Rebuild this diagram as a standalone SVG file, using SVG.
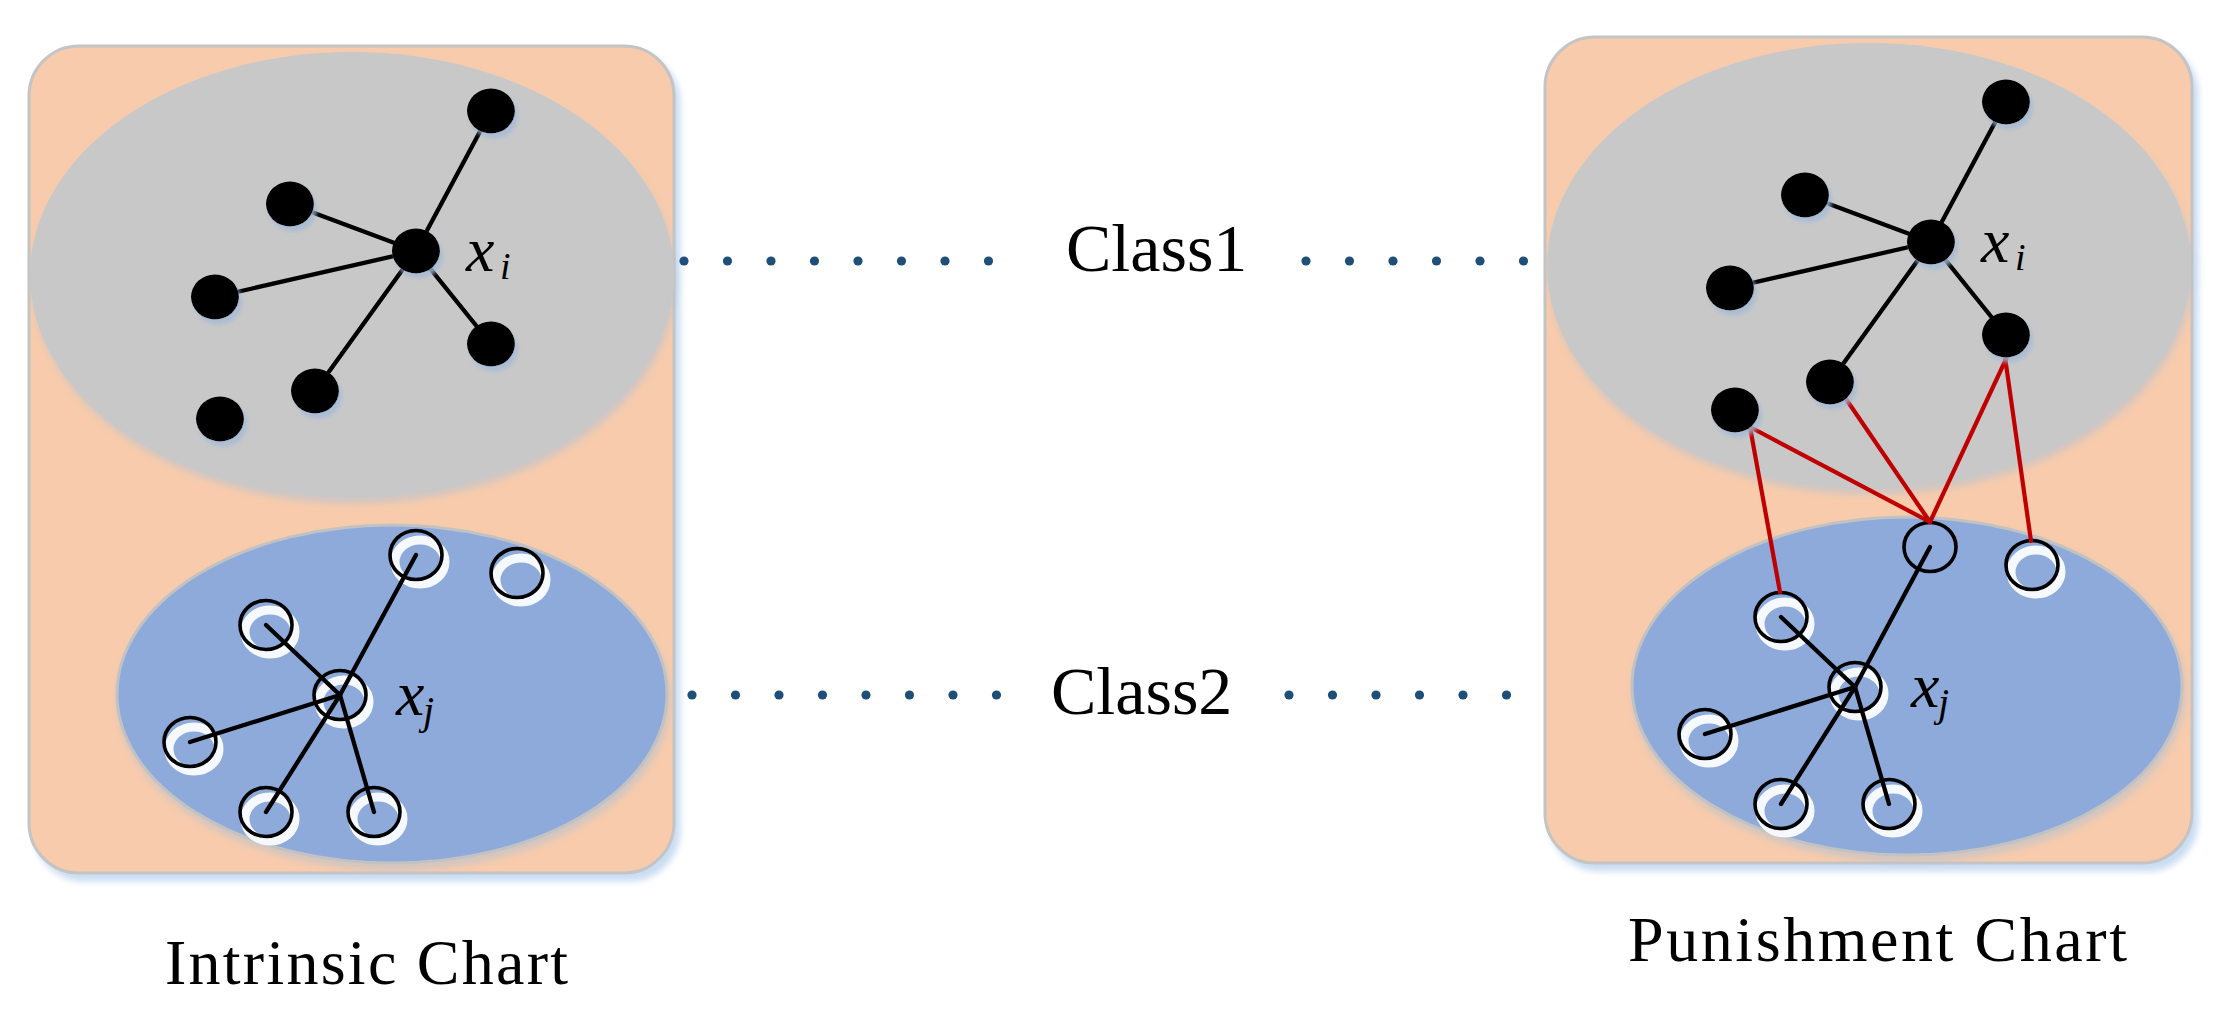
<svg xmlns="http://www.w3.org/2000/svg" xmlns:xlink="http://www.w3.org/1999/xlink" width="2218" height="1020" viewBox="0 0 2218 1020">
<style>
.panel{fill:#f7cbac;stroke:#c4c4c4;stroke-width:3}
.gray{fill:#c8c8c8}
.blue{fill:#8eaadb;stroke:#c2c2c2;stroke-width:3}
.edge{stroke:#000;stroke-width:4.3;fill:none;stroke-linecap:round}
.red{stroke:#c00000;stroke-width:4.2;fill:none;stroke-linecap:round}
.dot{fill:#1f4e79}
text{font-family:'Liberation Serif','Times New Roman',Tinos,Times,serif;fill:#000}
.it{font-style:italic}
</style>
<defs>
<filter id="psh" x="-5%" y="-5%" width="115%" height="115%"><feDropShadow dx="5" dy="7" stdDeviation="3" flood-color="#c5d9f1" flood-opacity="0.9"/></filter>
<filter id="esh" x="-5%" y="-5%" width="115%" height="120%"><feDropShadow dx="2" dy="6" stdDeviation="3" flood-color="#b9c3cf" flood-opacity="0.6"/></filter>
<filter id="nsh" x="-30%" y="-30%" width="170%" height="170%"><feDropShadow dx="3" dy="5" stdDeviation="2" flood-color="#a3bad6" flood-opacity="0.8"/></filter>
<ellipse id="bn" cx="0" cy="0" rx="24" ry="22.5" fill="#000"/>
<ellipse id="hw" cx="4" cy="7" rx="25" ry="22" fill="none" stroke="#f5f8fd" stroke-width="9"/>
<ellipse id="ho" cx="0" cy="0" rx="26" ry="24.5" fill="none" stroke="#000" stroke-width="3.6"/>
</defs>

<g id="panel-intrinsic">
<rect class="panel" x="29" y="46" width="645" height="827" rx="50" filter="url(#psh)"/>
<ellipse class="gray" cx="352" cy="275" rx="322" ry="223" filter="url(#esh)"/>
<ellipse class="blue" cx="392" cy="694" rx="275" ry="169" filter="url(#esh)"/>
</g>
<g id="panel-punishment">
<rect class="panel" x="1545" y="37" width="647" height="826" rx="50" filter="url(#psh)"/>
<ellipse class="gray" cx="1869" cy="266" rx="322" ry="223" filter="url(#esh)"/>
<ellipse class="blue" cx="1907" cy="686" rx="275" ry="169" filter="url(#esh)"/>
</g>

<g id="L-h1"><use href="#hw" x="416" y="555"/><use href="#ho" x="416" y="555"/></g>
<g id="L-h2"><use href="#hw" x="517" y="573"/><use href="#ho" x="517" y="573"/></g>
<g id="L-h3"><use href="#hw" x="266" y="625"/><use href="#ho" x="266" y="625"/></g>
<g id="L-hc"><use href="#hw" x="340" y="695"/><use href="#ho" x="340" y="695"/></g>
<g id="L-h5"><use href="#hw" x="190" y="742"/><use href="#ho" x="190" y="742"/></g>
<g id="L-h6"><use href="#hw" x="266" y="812"/><use href="#ho" x="266" y="812"/></g>
<g id="L-h7"><use href="#hw" x="374" y="812"/><use href="#ho" x="374" y="812"/></g>

<g id="R-h1"><use href="#ho" x="1930" y="547"/></g>
<g id="R-h2"><use href="#hw" x="2032" y="565"/><use href="#ho" x="2032" y="565"/></g>
<g id="R-h3"><use href="#hw" x="1781" y="617"/><use href="#ho" x="1781" y="617"/></g>
<g id="R-hc"><use href="#hw" x="1855" y="687"/><use href="#ho" x="1855" y="687"/></g>
<g id="R-h5"><use href="#hw" x="1705" y="734"/><use href="#ho" x="1705" y="734"/></g>
<g id="R-h6"><use href="#hw" x="1781" y="804"/><use href="#ho" x="1781" y="804"/></g>
<g id="R-h7"><use href="#hw" x="1889" y="804"/><use href="#ho" x="1889" y="804"/></g>

<g id="connectors">
<line class="edge" x1="416" y1="251" x2="491" y2="111"/>
<line class="edge" x1="416" y1="251" x2="290" y2="204"/>
<line class="edge" x1="416" y1="251" x2="215" y2="297"/>
<line class="edge" x1="416" y1="251" x2="491" y2="344"/>
<line class="edge" x1="416" y1="251" x2="315" y2="391"/>
<line class="edge" x1="340" y1="695" x2="416" y2="555"/>
<line class="edge" x1="340" y1="695" x2="266" y2="625"/>
<line class="edge" x1="340" y1="695" x2="190" y2="742"/>
<line class="edge" x1="340" y1="695" x2="266" y2="812"/>
<line class="edge" x1="340" y1="695" x2="374" y2="812"/>
<line class="edge" x1="1931" y1="242" x2="2006" y2="102"/>
<line class="edge" x1="1931" y1="242" x2="1805" y2="195"/>
<line class="edge" x1="1931" y1="242" x2="1730" y2="288"/>
<line class="edge" x1="1931" y1="242" x2="2006" y2="335"/>
<line class="edge" x1="1931" y1="242" x2="1830" y2="382"/>
<line class="edge" x1="1855" y1="687" x2="1930" y2="547"/>
<line class="edge" x1="1855" y1="687" x2="1781" y2="617"/>
<line class="edge" x1="1855" y1="687" x2="1705" y2="734"/>
<line class="edge" x1="1855" y1="687" x2="1781" y2="804"/>
<line class="edge" x1="1855" y1="687" x2="1889" y2="804"/>
<line class="red" x1="1750" y1="427" x2="1780" y2="592"/>
<line class="red" x1="1750" y1="427" x2="1930" y2="522"/>
<line class="red" x1="1846" y1="399" x2="1930" y2="522"/>
<line class="red" x1="2007" y1="357" x2="1930" y2="522"/>
<line class="red" x1="2005" y1="357" x2="2031" y2="541"/>
<g class="dot">
<circle cx="684" cy="261" r="4.6"/><circle cx="727.5" cy="261" r="4.6"/><circle cx="771" cy="261" r="4.6"/><circle cx="814.5" cy="261" r="4.6"/><circle cx="858" cy="261" r="4.6"/><circle cx="901.5" cy="261" r="4.6"/><circle cx="945" cy="261" r="4.6"/><circle cx="988.5" cy="261" r="4.6"/>
<circle cx="1306" cy="261" r="4.6"/><circle cx="1349.5" cy="261" r="4.6"/><circle cx="1393" cy="261" r="4.6"/><circle cx="1436.5" cy="261" r="4.6"/><circle cx="1480" cy="261" r="4.6"/><circle cx="1523.5" cy="261" r="4.6"/>
<circle cx="692" cy="695" r="4.6"/><circle cx="735.5" cy="695" r="4.6"/><circle cx="779" cy="695" r="4.6"/><circle cx="822.5" cy="695" r="4.6"/><circle cx="866" cy="695" r="4.6"/><circle cx="909.5" cy="695" r="4.6"/><circle cx="953" cy="695" r="4.6"/><circle cx="996.5" cy="695" r="4.6"/>
<circle cx="1289" cy="695" r="4.6"/><circle cx="1332.5" cy="695" r="4.6"/><circle cx="1376" cy="695" r="4.6"/><circle cx="1419.5" cy="695" r="4.6"/><circle cx="1463" cy="695" r="4.6"/><circle cx="1506.5" cy="695" r="4.6"/>
</g>
</g>

<g id="L-b1"><use href="#bn" x="491" y="111" filter="url(#nsh)"/></g>
<g id="L-b2"><use href="#bn" x="290" y="204" filter="url(#nsh)"/></g>
<g id="L-bc"><use href="#bn" x="416" y="251" filter="url(#nsh)"/></g>
<g id="L-b4"><use href="#bn" x="215" y="297" filter="url(#nsh)"/></g>
<g id="L-b5"><use href="#bn" x="491" y="344" filter="url(#nsh)"/></g>
<g id="L-b6"><use href="#bn" x="315" y="391" filter="url(#nsh)"/></g>
<g id="L-b7"><use href="#bn" x="220" y="419" filter="url(#nsh)"/></g>

<g id="R-b1"><use href="#bn" x="2006" y="102" filter="url(#nsh)"/></g>
<g id="R-b2"><use href="#bn" x="1805" y="195" filter="url(#nsh)"/></g>
<g id="R-bc"><use href="#bn" x="1931" y="242" filter="url(#nsh)"/></g>
<g id="R-b4"><use href="#bn" x="1730" y="288" filter="url(#nsh)"/></g>
<g id="R-b5"><use href="#bn" x="2006" y="335" filter="url(#nsh)"/></g>
<g id="R-b6"><use href="#bn" x="1830" y="382" filter="url(#nsh)"/></g>
<g id="R-b7"><use href="#bn" x="1735" y="410" filter="url(#nsh)"/></g>

<g id="labels">
<text class="it" x="466" y="271" font-size="64">x</text><text class="it" x="500" y="279" font-size="38">i</text>
<text class="it" x="396" y="715" font-size="64">x</text><text class="it" x="423" y="724" font-size="40">j</text>
<text class="it" x="1981" y="262" font-size="64">x</text><text class="it" x="2015" y="270" font-size="38">i</text>
<text class="it" x="1911" y="707" font-size="64">x</text><text class="it" x="1938" y="716" font-size="40">j</text>
<text x="1066" y="271" font-size="68">Class1</text>
<text x="1051" y="714" font-size="68">Class2</text>
<text x="165" y="984" font-size="64" textLength="403" lengthAdjust="spacing">Intrinsic Chart</text>
<text x="1628" y="961" font-size="64" textLength="499" lengthAdjust="spacing">Punishment Chart</text>
</g>
</svg>
